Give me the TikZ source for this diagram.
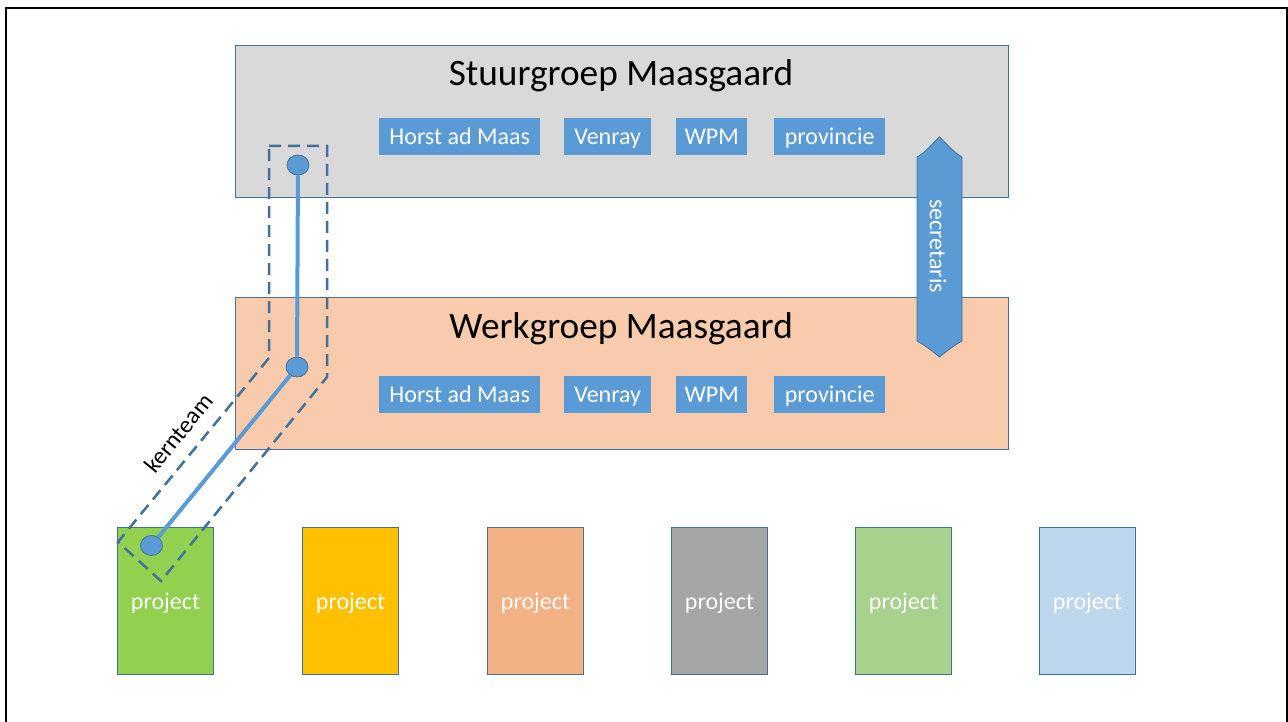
\documentclass[tikz,border=0pt]{standalone}
\usepackage{fontspec}
\setmainfont{Carlito}
\usetikzlibrary{shapes.geometric}
\definecolor{bord}{HTML}{41719C}
\definecolor{accblue}{HTML}{5B9BD5}
\definecolor{stuurfill}{HTML}{D9D9D9}
\definecolor{werkfill}{HTML}{F8CBAD}
\definecolor{pgreen}{HTML}{92D050}
\definecolor{pyellow}{HTML}{FFC000}
\definecolor{porange}{HTML}{F4B183}
\definecolor{pgray}{HTML}{A6A6A6}
\definecolor{plgreen}{HTML}{A9D18E}
\definecolor{plblue}{HTML}{BDD7EE}
\begin{document}
\begin{tikzpicture}[x=1pt,y=-1pt,
  groupbox/.style={draw=bord, line width=1pt, inner sep=0pt, anchor=north west, minimum width=773pt, minimum height=152pt},
  titletext/.style={anchor=base, font=\fontsize{37.3}{40}\selectfont, text=black},
  member/.style={fill=accblue, draw=none, inner sep=0pt, anchor=north west, minimum height=37pt, text=white,
     font=\fontsize{24}{28}\selectfont, text height=15.5pt, text depth=0pt},
  projbox/.style={draw=bord, line width=1pt, inner sep=0pt, anchor=north west, minimum width=96pt, minimum height=147pt},
  projtext/.style={anchor=base, text=white, font=\fontsize{24}{28}\selectfont},
  dot/.style={ellipse, fill=accblue, draw=bord, line width=0.8pt, minimum width=22pt, minimum height=20pt, inner sep=0pt},
  kline/.style={draw=accblue, line width=4pt},
  kdash/.style={draw=bord, line width=2.5pt, dash pattern=on 12pt off 7pt},
  labeltext/.style={font=\fontsize{24}{28}\selectfont}
]
\useasboundingbox (0,0) rectangle (1288,722);
\fill[white] (0,0) rectangle (1288,722);
\draw[line width=2pt, black] (5.5,8) rectangle (1287,760);

% group boxes
\node[groupbox, fill=stuurfill] (stuur) at (235,45) {};
\node[groupbox, fill=werkfill] (werk) at (235,297) {};
\node[titletext] (stuurtitle) at (621,86) {Stuurgroep Maasgaard};
\node[titletext] (werktitle) at (621,338) {Werkgroep Maasgaard};

% members stuurgroep
\node[member, minimum width=161pt] (s1) at (379,118) {Horst ad Maas};
\node[member, minimum width=87pt] (s2) at (564,118) {Venray};
\node[member, minimum width=71pt] (s3) at (676,118) {WPM};
\node[member, minimum width=111pt] (s4) at (774,118) {provincie};
% members werkgroep
\node[member, minimum width=161pt] (w1) at (379,376) {Horst ad Maas};
\node[member, minimum width=87pt] (w2) at (564,376) {Venray};
\node[member, minimum width=71pt] (w3) at (676,376) {WPM};
\node[member, minimum width=111pt] (w4) at (774,376) {provincie};

% secretaris double arrow
\filldraw[fill=accblue, draw=bord, line width=0.8pt]
  (917,157) .. controls (926,152) and (932,144) .. (939.5,137)
  .. controls (947,144) and (953,152) .. (962,157)
  -- (962,341) .. controls (953,346) and (947,351) .. (939.5,357)
  .. controls (932,351) and (926,346) .. (917,341) -- cycle;
\node[labeltext, text=white, rotate=-90] (sec) at (938,246) {secretaris};

% projects
\foreach \px/\pc/\pn in {117/pgreen/p1, 302/pyellow/p2, 487/porange/p3, 671/pgray/p4, 855/plgreen/p5, 1039/plblue/p6}{
  \node[projbox, fill=\pc] (\pn) at (\px,527) {};
  \node[projtext] (\pn t) at (\pn.center |- 0,609) {project};
}

% kernteam dashed outline
\coordinate (k1) at (269,146);
\coordinate (k2) at (327,146);
\coordinate (k3) at (327,377);
\coordinate (k4) at (161,581);
\coordinate (k5) at (118,542);
\coordinate (k6) at (269,358);
\draw[kdash] (k1) -- (k2) -- (k3) -- (k4) -- (k5) -- (k6) -- cycle;

% kernteam dots and line
\node[dot] (c1) at (298,165) {};
\node[dot] (c2) at (297,367) {};
\node[dot] (c3) at (151.5,545.5) {};
\draw[kline] (c1) -- (c2) -- (c3);

\node[labeltext, rotate=51] (kern) at (178.5,433) {kernteam};
\end{tikzpicture}
\end{document}
